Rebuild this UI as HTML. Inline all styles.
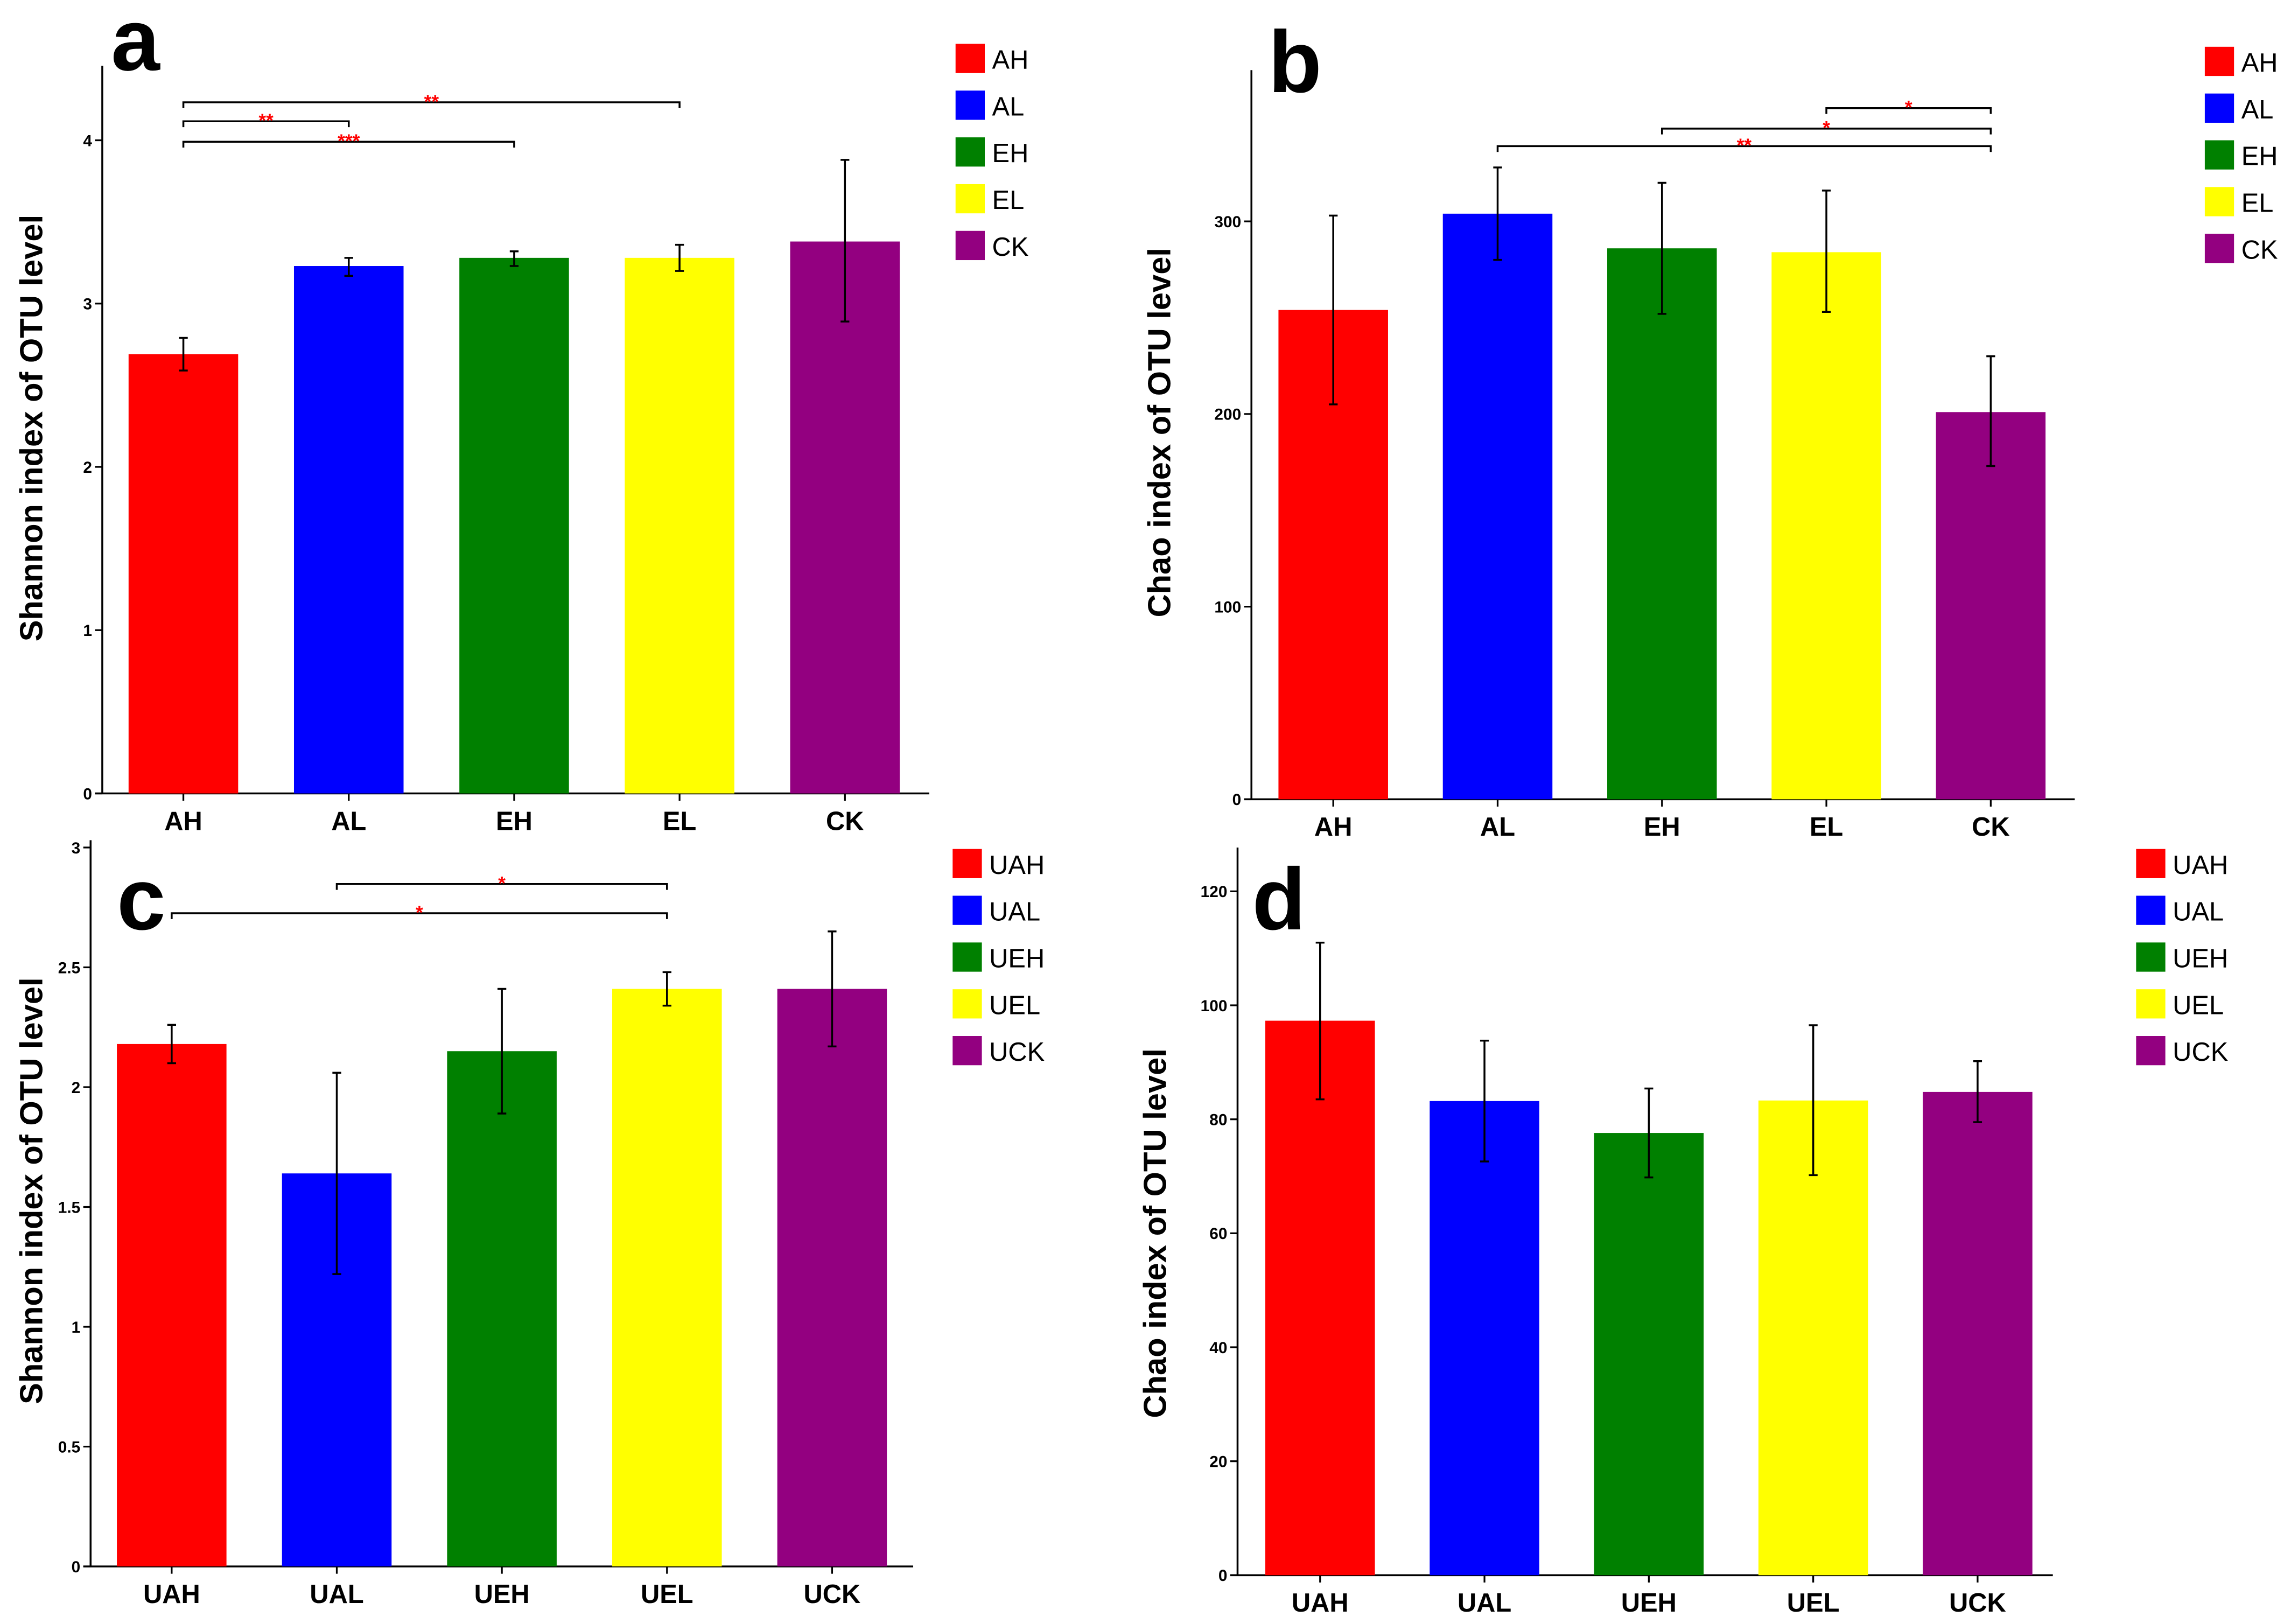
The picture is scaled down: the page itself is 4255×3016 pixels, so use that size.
<!DOCTYPE html>
<html><head><meta charset="utf-8"><style>
html,body{margin:0;padding:0;background:#fff;}
svg{display:block;}
text{font-family:"Liberation Sans",sans-serif;}
</style></head><body>
<svg id="fig" xmlns="http://www.w3.org/2000/svg" width="4255" height="3016" viewBox="0 0 1568 1111.4" preserveAspectRatio="none">
<rect width="1568" height="1111.4" fill="#fff"/>
</svg>
<script>
const colors = ["#ff0000","#0000ff","#008000","#ffff00","#930080"];
const catsA = ["AH","AL","EH","EL","CK"];
const valsA = [2.69,3.23,3.28,3.28,3.38];
const loA = [2.59,3.17,3.23,3.20,2.89];
const hiA = [2.79,3.28,3.32,3.36,3.88];
const ticksA = [0,1,2,3,4];
const catsB = ["AH","AL","EH","EL","CK"];
const valsB = [254,304,286,284,201];
const loB = [205,280,252,253,173];
const hiB = [303,328,320,316,230];
const ticksB = [0,100,200,300];
const catsC = ["UAH","UAL","UEH","UEL","UCK"];
const valsC = [2.18,1.64,2.15,2.41,2.41];
const loC = [2.10,1.22,1.89,2.34,2.17];
const hiC = [2.26,2.06,2.41,2.48,2.65];
const ticksC = [0,0.5,1,1.5,2,2.5,3];
const tickLabelsC = ["0","0.5","1","1.5","2","2.5","3"];
const catsD = ["UAH","UAL","UEH","UEL","UCK"];
const valsD = [97.3,83.2,77.6,83.3,84.8];
const loD = [83.5,72.6,69.8,70.2,79.5];
const hiD = [111,93.8,85.4,96.5,90.2];
const ticksD = [0,20,40,60,80,100,120];
const sigA = [[0,3,"**"],[0,1,"**"],[0,2,"***"]];
const sigB = [[3,4,"*"],[2,4,"*"],[1,4,"**"]];
const sigC = [[1,3,"*"],[0,3,"*"]];

const NS="http://www.w3.org/2000/svg";
const svg=document.getElementById('fig');
function mk(tag,attrs,parent,txt){const e=document.createElementNS(NS,tag);for(const k in attrs)e.setAttribute(k,attrs[k]);if(txt!==undefined)e.textContent=txt;(parent||svg).appendChild(e);return e;}

function panel(cfg){
  const g=mk('g',{});
  
  
  const y=v=>cfg.y0-(v-0)/cfg.max*(cfg.y0-cfg.yMaxPix);
  const x=i=>cfg.x0+i*cfg.step;
  const ya=mk('line',{x1:cfg.ax,y1:cfg.top,x2:cfg.ax,y2:cfg.y0,stroke:'#000','stroke-width':1.3},g);
  
  
  const xa=mk('line',{x1:cfg.ax-5,y1:cfg.y0,x2:cfg.axEnd,y2:cfg.y0,stroke:'#000','stroke-width':1.3},g);
  
  
  cfg.ticks.forEach((t,i)=>{
    mk('line',{x1:cfg.ax-5,y1:y(t),x2:cfg.ax,y2:y(t),stroke:'#000','stroke-width':1.2},g);
    const tl=mk('text',{x:cfg.ax-7,y:y(t)+4,'text-anchor':'end','font-size':11,'font-weight':'bold'},g,cfg.tickLabels?cfg.tickLabels[i]:String(t));
    
    
  });
  cfg.cats.forEach((c,i)=>{
    const cx=x(i);
    const b=mk('rect',{x:cx-37.5,y:y(cfg.vals[i]),width:75,height:cfg.y0-y(cfg.vals[i]),fill:colors[i]},g);
    
    
    const e=mk('g',{stroke:'#000','stroke-width':1.3},g);
    
    
    mk('line',{x1:cx,y1:y(cfg.lo[i]),x2:cx,y2:y(cfg.hi[i])},e);
    mk('line',{x1:cx-3,y1:y(cfg.lo[i]),x2:cx+3,y2:y(cfg.lo[i])},e);
    mk('line',{x1:cx-3,y1:y(cfg.hi[i]),x2:cx+3,y2:y(cfg.hi[i])},e);
    mk('line',{x1:cx,y1:cfg.y0,x2:cx,y2:cfg.y0+5,stroke:'#000','stroke-width':1.2},g);
    const xl=mk('text',{x:cx,y:cfg.y0+25,'text-anchor':'middle','font-size':18,'font-weight':'bold'},g,c);
    
    
    const ly=cfg.legY+i*32;
    const ls=mk('rect',{x:cfg.legX,y:ly,width:20,height:20,fill:colors[i]},g);
    
    
    const lt=mk('text',{x:cfg.legX+25,y:ly+17,'font-size':18},g,c);
    
    
  });
  (cfg.sig||[]).forEach((s,k)=>{
    const by=cfg.sigY[k];
    const sg=mk('g',{},g);
    
    
    mk('path',{d:`M${x(s[0])},${by+4}V${by}H${x(s[1])}V${by+4}`,fill:'none',stroke:'#000','stroke-width':1.3},sg);
    mk('text',{x:(x(s[0])+x(s[1]))/2,y:by+4,'text-anchor':'middle','font-size':13,'font-weight':'bold',fill:'#ff0000'},sg,s[2]);
  });
  const yt=mk('text',{x:0,y:0,'text-anchor':'middle','font-size':22,'font-weight':'bold',transform:`translate(${cfg.titleX},${cfg.titleY}) rotate(-90)`},g,cfg.title);
  
  
  const pl=mk('text',{x:cfg.lx,y:cfg.ly,'font-size':60,'font-weight':'bold'},g,cfg.letter);
  
  
}
panel({letter:'a',cats:catsA,vals:valsA,lo:loA,hi:hiA,ticks:ticksA,max:4,y0:543,yMaxPix:96,top:45,ax:70,axEnd:636,x0:125.5,step:113.2,legX:654,legY:30,title:'Shannon index of OTU level',titleX:29,titleY:293,lx:76,ly:48,sig:sigA,sigY:[70,83,97]});
panel({letter:'b',cats:catsB,vals:valsB,lo:loB,hi:hiB,ticks:ticksB,max:300,y0:547,yMaxPix:151.5,top:48,ax:856.5,axEnd:1420,x0:912.5,step:112.5,legX:1509,legY:32,title:'Chao index of OTU level',titleX:801,titleY:296,lx:868,ly:63,sig:sigB,sigY:[74,88,100]});
panel({letter:'c',cats:catsC,vals:valsC,lo:loC,hi:hiC,ticks:ticksC,tickLabels:tickLabelsC,max:3,y0:1072,yMaxPix:580,top:575,ax:62,axEnd:625,x0:117.5,step:113,legX:652,legY:581,title:'Shannon index of OTU level',titleX:29,titleY:815,lx:80,ly:636,sig:sigC,sigY:[605,625]});
panel({letter:'d',cats:catsD,vals:valsD,lo:loD,hi:hiD,ticks:ticksD,max:120,y0:1078,yMaxPix:610,top:580,ax:847,axEnd:1405,x0:903.5,step:112.5,legX:1462,legY:581,title:'Chao index of OTU level',titleX:798,titleY:844,lx:857,ly:636,sig:[],sigY:[]});
</script>
</body></html>
